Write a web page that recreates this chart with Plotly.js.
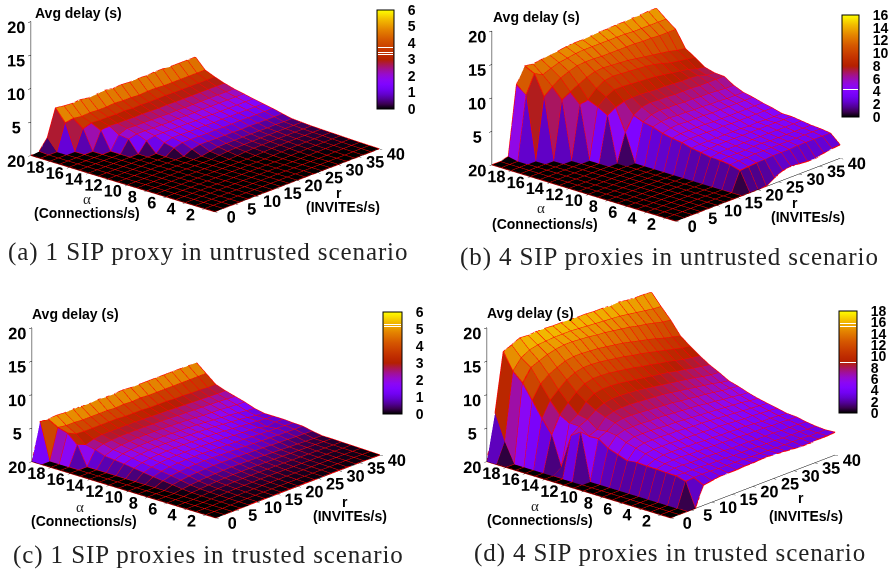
<!DOCTYPE html>
<html><head><meta charset="utf-8">
<script src="https://cdn.plot.ly/plotly-3.0.1.min.js"></script>
<style>html,body{margin:0;padding:0;background:#fff}#c{width:891px;height:571px}
.annotation-text[style*="Serif"]{letter-spacing:.9px}</style>
</head><body><div id="c"></div>
<script>
const rValues=[0,2,4,6,8,10,12,14,16,18,20,22,24,26,28,30,32,34,36,38,40];
const alphaValues=[1,2,3,4,5,6,7,8,9,10,11,12,13,14,15,16,17,18,19,20];
const rTicks=[0,5,10,15,20,25,30,35,40];
const alphaTicks=[2,4,6,8,10,12,14,16,18,20];
const delayTicks=[5,10,15,20];
const captions=["(a) 1 SIP proxy in untrusted scenario","(b) 4 SIP proxies in untrusted scenario","(c) 1 SIP proxies in trusted scenario","(d) 4 SIP proxies in trusted scenario"];
const colorMax=[6,16,6,18];
const colorStep=[1,2,1,2];
const delayA=[
[0,0,0,0,0,0,0,0,0,0,0,0,0,0,0,0,0,0,0,0,0],
[0,0,0,0,0,0,0,0,0,0,0,0,0,0,0,0,0,0,.02,.03,.03],
[0,0,0,0,0,0,0,0,0,0,0,0,0,0,0,0,0,.04,.05,.06,.06],
[0,0,0,0,0,0,0,0,0,0,0,0,0,0,0,.03,.06,.08,.09,.1,.1],
[0,0,0,0,0,0,0,0,0,0,0,0,0,0,.03,.06,.1,.12,.13,.14,.15],
[0,0,0,0,0,0,0,0,0,0,0,0,0,.04,.1,.14,.17,.18,.19,.2,.2],
[0,0,0,0,0,0,0,0,0,0,0,0,.05,.12,.18,.21,.23,.24,.25,.25,.25],
[0,0,0,0,0,0,0,0,0,0,0,.08,.18,.24,.27,.29,.3,.3,.3,.3,.3],
[0,0,0,0,0,0,0,0,0,0,.15,.28,.33,.36,.38,.39,.4,.4,.4,.4,.4],
[0,0,0,0,0,0,0,0,0,.05,.3,.5,.55,.55,.55,.55,.55,.5,.55,.5,.5],
[0,0,0,0,0,0,0,0,.05,.65,.9,.9,.85,.85,.85,.8,.85,.8,.8,.8,.8],
[0,0,0,0,0,0,0,0,.85,1.2,1.2,1.2,1.15,1.2,1.15,1.15,1.2,1.15,1.15,1.15,1.15],
[0,0,0,0,0,0,0,.05,1.2,1.5,1.5,1.45,1.45,1.45,1.4,1.45,1.4,1.4,1.4,1.4,1.4],
[0,0,0,0,0,0,0,1.5,1.8,1.8,1.75,1.75,1.75,1.7,1.75,1.7,1.7,1.7,1.7,1.7,1.7],
[0,0,0,0,0,0,1.8,2.1,2.1,2.05,2.05,2.0,2.05,2.0,2.0,2.05,2.0,2.0,2.0,2.0,2.0],
[0,0,0,0,0,0,2.0,2.5,2.4,2.4,2.35,2.35,2.3,2.35,2.3,2.3,2.3,2.3,2.3,2.3,2.3],
[0,0,0,0,0,2.7,2.9,2.8,2.8,2.75,2.8,2.75,2.7,2.75,2.7,2.7,2.7,2.7,2.7,2.7,2.7],
[0,0,0,0,3.0,3.4,3.3,3.3,3.25,3.3,3.2,3.25,3.2,3.2,3.25,3.2,3.2,3.2,3.2,3.2,3.2],
[0,0,0,3.9,4.1,3.9,4.0,3.9,3.9,4.0,3.9,3.9,3.8,3.9,3.9,3.8,3.8,3.8,3.8,3.8,3.8],
[0,.1,1.7,5.7,5.5,5.4,5.5,5.3,5.4,5.5,5.3,5.4,5.3,5.4,5.3,5.4,5.4,5.3,5.3,5.3,5.3]];
const delayB=[
[0,0,0,0,0,0,0,0,0,0,0,.05,.8,1.4,1.6,1.5,1.4,1.4,1.7,1.9,2.0],
[0,0,0,0,0,0,0,0,0,2.9,3.0,3.1,3.1,3.2,3.2,3.2,3.3,3.3,3.3,3.3,3.3],
[0,0,0,0,0,0,0,0,0,3.3,3.4,3.4,3.5,3.5,3.5,3.5,3.5,3.5,3.5,3.5,3.5],
[0,0,0,0,0,0,0,0,0,3.5,3.6,3.6,3.6,3.7,3.7,3.6,3.6,3.6,3.6,3.6,3.6],
[0,0,0,0,0,0,0,0,0,3.5,3.7,3.8,3.8,3.8,3.8,3.8,3.8,3.8,3.8,3.8,3.8],
[0,0,0,0,0,0,0,0,0,3.8,3.9,4,4,4,4,4,4,4,4,4,4],
[0,0,0,0,0,0,0,0,0,4.0,4.1,4.1,4.1,4.1,4.1,4.1,4.0,4.1,4,4,4],
[0,0,0,0,0,0,0,0,0,4.4,4.5,4.5,4.5,4.4,4.5,4.4,4.4,4.4,4.4,4.4,4.4],
[0,0,0,0,0,0,0,0,0,4.6,4.8,4.8,4.8,4.8,4.7,4.7,4.7,4.7,4.7,4.7,4.7],
[0,0,0,0,0,0,0,0,0,4.9,5.2,5.3,5.2,5.2,5.2,5.1,5.1,5.1,5.1,5.1,5.1],
[0,0,0,0,0,0,0,0,0,5.4,5.7,5.8,5.7,5.7,5.6,5.6,5.5,5.5,5.4,5.4,5.4],
[0,0,0,0,0,0,0,0,0,5.7,6.3,6.5,6.4,6.4,6.3,6.3,6.2,6.2,6.1,6,6],
[0,0,0,0,0,0,0,0,4.2,6.3,7,7.2,7.1,7.1,7,7,7,6.9,6.9,6.9,6.9],
[0,0,0,0,0,0,0,6.8,7.5,7.9,8,8,7.9,7.8,7.8,7.7,7.6,7.6,7.5,7.1,7],
[0,0,0,0,0,0,0,7.6,8.6,9.2,9.2,9.1,9,8.9,8.8,8.6,8.4,8.2,8,7.6,7.4],
[0,0,0,0,0,0,8,8.2,9.4,10.1,10.3,10.2,10.1,10,9.9,9.7,9.4,9,8.8,8.6,8.4],
[0,0,0,0,0,8.7,9.4,10,10.6,11,11.1,11,10.9,10.8,10.6,10.4,10.2,10,9.8,9.5,9.3],
[0,0,0,0,9.2,10.2,11,11.5,11.9,12,12,11.9,11.9,11.9,11.9,11.9,11.8,11.8,11.7,11.7,11.7],
[0,0,0,9.5,12.2,11.5,12,12.4,12.6,12.8,12.9,12.9,12.9,12.9,12.9,12.9,12.8,12.8,12.8,12.8,12.8],
[0,0,.3,10.6,12.9,12.7,12.9,13.1,13.2,13.4,13.5,13.5,13.6,13.7,13.7,13.8,13.8,13.9,13.9,14,14]];
const delayC=[
[0,0,0,.02,.03,.04,.04,.05,.05,.05,.05,.05,.05,.05,.05,.05,.05,.05,.05,.03,0],
[0,0,0,.03,.05,.07,.08,.08,.09,.09,.1,.1,.1,.1,.1,.1,.1,.1,.1,.08,.04],
[0,0,0,.04,.08,.1,.12,.13,.14,.15,.15,.15,.15,.15,.14,.14,.13,.12,.12,.1,.08],
[0,0,0,.05,.1,.15,.18,.2,.2,.22,.22,.22,.2,.2,.2,.18,.18,.16,.15,.13,.12],
[0,0,0,.06,.14,.2,.26,.3,.32,.32,.32,.3,.3,.28,.26,.25,.22,.2,.18,.16,.15],
[0,0,0,.1,.2,.3,.36,.42,.46,.46,.45,.44,.42,.4,.38,.35,.32,.28,.25,.22,.2],
[0,0,0,.2,.35,.46,.56,.62,.66,.68,.66,.62,.6,.55,.5,.44,.4,.35,.3,.25,.2],
[0,0,0,.4,.6,.75,.85,.92,.95,.95,.92,.9,.85,.8,.75,.7,.65,.6,.55,.5,.45],
[0,0,0,.55,.85,1.0,1.1,1.15,1.2,1.2,1.15,1.1,1.05,1,.95,.9,.85,.8,.78,.75,.75],
[0,0,0,.7,1.05,1.25,1.35,1.4,1.4,1.4,1.35,1.3,1.25,1.2,1.15,1.05,1,.95,.9,.85,.8],
[0,0,0,.9,1.25,1.45,1.55,1.6,1.6,1.6,1.55,1.5,1.45,1.4,1.3,1.25,1.15,1.05,.7,.95,.9],
[0,0,0,1.1,1.45,1.65,1.75,1.8,1.8,1.8,1.75,1.7,1.65,1.6,1.5,1.4,1.3,1.2,1.1,1,.9],
[0,0,0,1.3,1.7,1.85,1.95,2,2,2,1.95,1.9,1.85,1.8,1.7,1.6,1.5,1.4,1.2,1.05,.9],
[0,0,0,1.45,1.9,2.05,2.15,2.2,2.2,2.2,2.15,2.1,2.05,2,1.9,1.8,1.7,1.6,1.45,1.3,1.2],
[0,0,0,1.6,2.1,2.3,2.4,2.45,2.45,2.45,2.4,2.35,2.3,2.25,2.15,2.05,2,1.95,1.85,1.75,1.7],
[0,0,0,2.1,2.5,2.6,2.7,2.7,2.7,2.7,2.65,2.6,2.55,2.5,2.45,2.4,2.35,2.3,2.25,2.15,2.1],
[0,0,2.9,2.4,2.8,3,3,3,3,3,2.95,2.9,2.85,2.8,2.75,2.7,2.65,2.6,2.55,2.5,2.5],
[0,0,4.2,3.6,3.5,3.5,3.5,3.5,3.5,3.4,3.4,3.4,3.3,3.3,3.3,3.2,3.2,3.1,3.1,3,3],
[0,0,4.6,4.4,4.4,4.3,4.3,4.3,4.3,4.2,4.3,4.2,4.3,4.2,4.2,4.2,4.2,4.2,4.2,4.2,4.2],
[0,5.5,5.4,5.5,5.4,5.5,5.4,5.4,5.5,5.4,5.4,5.5,5.4,5.4,5.4,5.4,5.4,5.4,5.4,5.4,5.4]];
const delayD=[
[0,0,0,0,3.0,3.2,3.4,3.4,3.4,3.5,3.5,3.6,3.6,3.5,3.4,3.3,3.2,3.2,3.3,3.3,3.4],
[0,0,0,3.6,3.7,3.7,3.7,3.6,3.6,3.6,3.6,3.5,3.5,3.5,3.4,3.4,3.4,3.4,3.3,3.3,3.3],
[0,0,0,4.0,3.9,3.9,3.9,3.8,3.8,3.8,3.7,3.7,3.7,3.6,3.6,3.6,3.5,3.5,3.5,3.4,3.4],
[0,0,0,4.0,4.2,4.2,4.1,4.1,4.1,4,4,3.9,3.9,3.9,3.8,3.8,3.8,3.7,3.7,3.7,3.6],
[0,0,0,4.1,4.4,4.5,4.5,4.4,4.4,4.4,4.3,4.3,4.2,4.2,4.1,4.1,4.1,4,4,3.9,3.9],
[0,0,0,4.1,4.6,4.8,4.8,4.8,4.7,4.7,4.6,4.6,4.5,4.5,4.4,4.4,4.3,4.2,4.2,4.1,4.0],
[0,0,0,4.2,5,5.2,5.2,5.2,5.1,5.1,5,5,4.9,4.9,4.8,4.7,4.6,4.6,4.5,4.4,4.3],
[0,0,0,4,5.4,5.7,5.7,5.7,5.6,5.6,5.5,5.4,5.4,5.3,5.2,5.1,5,4.9,4.8,4.7,4.6],
[0,0,0,4.5,5.8,6.2,6.2,6.2,6.1,6,6,5.9,5.8,5.7,5.6,5.5,5.4,5.3,5.2,5,4.9],
[0,0,0,5,6.4,6.8,6.8,6.8,6.7,6.7,6.6,6.5,6.4,6.3,6.2,6,5.9,5.7,5.6,5.4,5.3],
[0,0,0,6,6.6,7.4,7.6,7.6,7.5,7.4,7.3,7.2,7.1,6.9,6.8,6.6,6.5,6.3,6.1,6,5.8],
[0,0,7,5.9,6.4,7.8,8.2,8.3,8.3,8.2,8.1,8,7.9,7.7,7.5,7.3,7.1,6.9,6.7,6.4,6.2],
[0,0,6,6.9,7.5,8.4,9,9.2,9.2,9.1,9,8.8,8.6,8.4,8.2,8,7.8,7.6,7.3,7.1,7],
[0,0,.9,7,7.8,9.2,10,10.2,10.2,10.1,9.9,9.7,9.5,9.3,9.1,8.9,8.6,8.4,8.1,7.9,7.7],
[0,0,5.3,7.8,9.1,10.2,11,11.3,11.3,11.2,11,10.8,10.6,10.3,10.1,9.8,9.6,9.3,9,8.8,8.6],
[0,0,7.3,9.5,10.6,11.6,12.2,12.5,12.5,12.4,12.2,12,11.8,11.5,11.3,11,10.7,10.4,10.1,9.8,9.6],
[0,0,9.5,11.5,12.4,13,13.5,13.7,13.7,13.6,13.5,13.3,13.1,12.9,12.6,12.3,12,11.7,11.3,11,10.7],
[0,0,11.7,13.5,14,14.5,14.8,15,15,14.9,14.8,14.6,14.5,14.3,14.1,13.9,13.6,13.4,13.1,12.8,12.6],
[0,3,13,14.5,15.2,15.5,15.6,15.7,15.7,15.7,15.6,15.5,15.4,15.3,15.2,15.1,14.9,14.7,14.5,14.3,14.2],
[0,6.8,15.5,16,16.6,16.5,16.6,16.6,16.5,16.5,16.5,16.4,16.4,16.3,16.3,16.2,16.3,16.1,16,16,15.9]];
const panels=[delayA,delayB,delayC,delayD];
const W=891,H=571;
const palette=[[0,'rgb(0,0,0)'],[.05,'rgb(57,0,79)'],[.1,'rgb(81,0,150)'],[.15,'rgb(99,1,206)'],[.2,'rgb(114,2,243)'],[.25,'rgb(128,4,255)'],[.3,'rgb(140,7,243)'],[.35,'rgb(151,11,206)'],[.4,'rgb(161,16,150)'],[.45,'rgb(171,23,79)'],[.5,'rgb(180,32,0)'],[.55,'rgb(189,42,0)'],[.6,'rgb(198,55,0)'],[.7,'rgb(213,87,0)'],[.8,'rgb(228,131,0)'],[.9,'rgb(242,186,0)'],[1,'rgb(255,255,0)']];
const bold={family:'"Liberation Sans",Arial,sans-serif',size:14,color:'#000',weight:700};
const bars=[[377,10,394,109],[842,15,859,117],[383,312,402,414],[839,311,857,413]];
const domainsX=[[0,410],[445,887],[0,412],[445,877]];
const domainsY=[[.5,1],[.5,1],[0,.5],[0,.5]];
const centerZ=[-.43,-.36,-.28,-.28];
const eye={x:-2.1,y:-1.88,z:1.026};
const whiteLines=[[377,394,[47.7,52.7,55]],[842,859,[89]],[383,402,[324.3,326.3]],[839,857,[323.7,326.3,362.3]]];
const nr=rValues.length,na=alphaValues.length;
const traces=[];
panels.forEach((z,p)=>{
  const name=p?'scene'+(p+1):'scene';
  const tv=[];for(let v=0;v<=colorMax[p];v+=colorStep[p])tv.push(v);
  const b=bars[p];
  const vx=[],vy=[],vz=[],ti=[],tj=[],tk=[],cell=[];
  z.forEach((row,a)=>row.forEach((v,r)=>{vx.push(rValues[r]);vy.push(alphaValues[a]);vz.push(v);}));
  for(let a=0;a<na-1;a++)for(let r=0;r<nr-1;r++){
    const q=a*nr+r,m=(z[a][r]+z[a][r+1]+z[a+1][r]+z[a+1][r+1])/4;
    ti.push(q,q);tj.push(q+1,q+nr+1);tk.push(q+nr+1,q+nr);cell.push(m,m);
  }
  traces.push({type:'mesh3d',scene:name,x:vx,y:vy,z:vz,i:ti,j:tj,k:tk,intensity:cell,intensitymode:'cell',cmin:0,cmax:colorMax[p],colorscale:palette,flatshading:true,
    lighting:{ambient:1,diffuse:0,specular:0,roughness:1,fresnel:0},hoverinfo:'skip',
    colorbar:{x:b[0]/W,xanchor:'left',y:1-b[3]/H,yanchor:'bottom',yref:'paper',len:b[3]-b[1],lenmode:'pixels',thickness:b[2]-b[0],thicknessmode:'pixels',xpad:0,ypad:0,
      tickvals:tv,ticks:'outside',ticklen:11,tickcolor:'rgba(0,0,0,0)',tickfont:bold,outlinecolor:'#000',outlinewidth:1,borderwidth:0}});
  const lx=[],ly=[],lz=[];
  z.forEach((row,a)=>{row.forEach((v,r)=>{lx.push(rValues[r]);ly.push(alphaValues[a]);lz.push(v);});lx.push(null);ly.push(null);lz.push(null);});
  rValues.forEach((rv,r)=>{z.forEach((row,a)=>{lx.push(rv);ly.push(alphaValues[a]);lz.push(row[r]);});lx.push(null);ly.push(null);lz.push(null);});
  traces.push({type:'scatter3d',scene:name,mode:'lines',x:lx,y:ly,z:lz,line:{color:'#ff0000',width:2},hoverinfo:'skip',showlegend:false,connectgaps:false});
});
function axis(range,vals){return {range:range,tickvals:vals,ticktext:vals.map(String),tickfont:bold,tickangle:0,showgrid:false,zeroline:false,showbackground:false,showspikes:false,
  showline:true,linecolor:'#000',linewidth:1,ticks:'outside',ticklen:4,tickcolor:'#000',title:{text:''}};}
const layout={width:W,height:H,margin:{l:0,r:0,t:0,b:0},paper_bgcolor:'#fff',showlegend:false,annotations:[],shapes:[]};
panels.forEach((z,i)=>{
  const name=i?'scene'+(i+1):'scene';
  layout[name]={domain:{x:[domainsX[i][0]/W,domainsX[i][1]/W],y:domainsY[i]},aspectmode:'manual',aspectratio:{x:1.725,y:1.725,z:.996},
    camera:{projection:{type:'orthographic'},eye:{x:eye.x,y:eye.y,z:eye.z+centerZ[i]},up:{x:0,y:0,z:1},center:{x:0,y:0,z:centerZ[i]}},
    xaxis:axis([0,40],rTicks),yaxis:axis([1,20],alphaTicks),zaxis:axis([0,20],delayTicks),bgcolor:'#fff'};
});
function note(text,x,y,font){layout.annotations.push({text:text,xref:'paper',yref:'paper',x:x/W,y:1-y/H,xanchor:'center',yanchor:'middle',showarrow:false,font:font});}
const serif={family:'"Liberation Serif",serif',size:25,color:'#222'};
[[78,13],[536,17],[75,314],[530,313]].forEach(p=>note('Avg delay (s)',p[0],p[1],bold));
[[87,199],[541,208],[80,507],[535,506]].forEach(p=>note('α',p[0],p[1],{family:'"Liberation Serif",serif',size:15,color:'#222'}));
[[87,213],[545,224],[84,521],[540,520]].forEach(p=>note('(Connections/s)',p[0],p[1],bold));
[[339,193],[795,203],[345,502],[801,498]].forEach(p=>note('r',p[0],p[1],bold));
[[343,207],[808,217],[350,516],[806,516]].forEach(p=>note('(INVITEs/s)',p[0],p[1],bold));
[[208,252],[669,257],[208,555],[670,553]].forEach((p,i)=>note(captions[i],p[0],p[1],serif));
whiteLines.forEach(w=>w[2].forEach(y=>layout.annotations.push({text:'\u00a0',xref:'paper',yref:'paper',x:(w[0]+w[1])/2/W,y:1-y/H,xanchor:'center',yanchor:'middle',showarrow:false,width:w[1]-w[0]-2,height:1,bgcolor:'#fff',borderpad:0,borderwidth:0,font:{size:1}})));
Plotly.newPlot('c',traces,layout,{displayModeBar:false});
</script></body></html>
